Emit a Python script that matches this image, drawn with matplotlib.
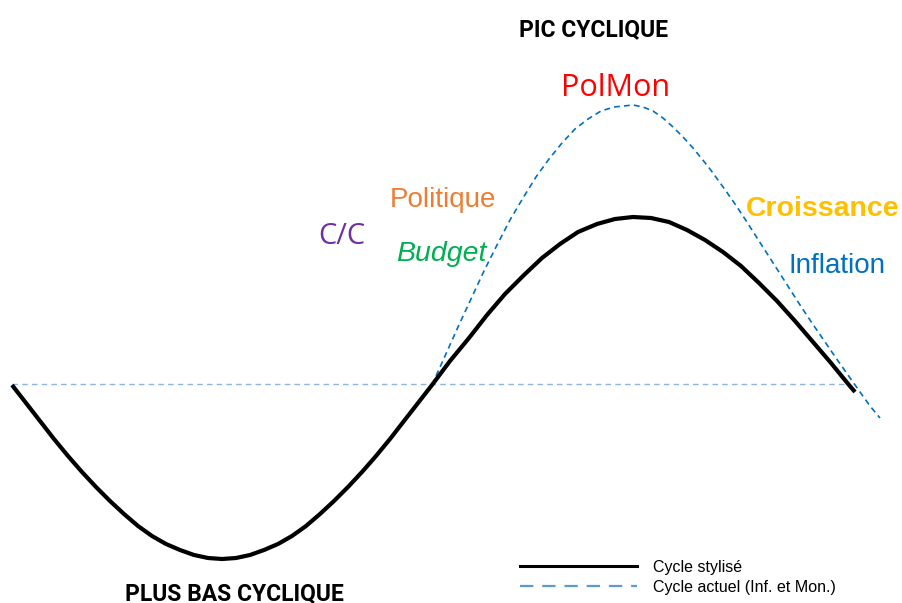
"""Stylised economic cycle vs current cycle (Inf. et Mon.)."""

import matplotlib
matplotlib.use("Agg")
import matplotlib.pyplot as plt
from matplotlib.lines import Line2D

# stylised cycle (pixel-like units, y grows downward)
stylise_x = [12, 26, 40, 54, 68, 82, 96, 110, 124, 138, 152, 166, 180, 194, 208, 222,
             236, 250, 264, 278, 292, 306, 320, 334, 348, 362, 376, 390, 404, 418,
             432, 450, 469, 487, 505, 524, 542, 560, 578, 597, 615, 633,
             651, 669, 687, 705, 723, 741, 759, 777, 795, 813, 831, 849, 855]
stylise_y = [385, 403, 421, 439, 456, 472, 487, 501, 514, 526, 536, 544, 550, 555, 558, 559,
             558, 555, 550, 544, 536, 526, 514, 501, 487, 472, 456, 439, 421, 403,
             385, 361, 338, 315, 294, 275, 258, 244, 232, 224, 219, 217,
             218, 222, 230, 240, 252, 266, 283, 301, 321, 342, 363, 385, 392]

# current cycle (inflation and monetary policy)
actuel_x = [432, 445, 458, 471, 484, 497, 510, 523, 536, 549, 562, 575, 588, 601, 614, 633,
            643, 653, 663, 673, 683, 693, 702, 710, 718, 727, 735, 743, 752, 760, 768,
            777, 785, 792, 800, 812, 824, 836, 848, 860, 870, 880]
actuel_y = [385, 356, 327, 299, 271, 245, 220, 198, 177, 159, 143, 129, 119, 111, 107, 105,
            107, 111, 118, 127, 137, 148, 159, 169, 180, 192.5, 204, 216, 230, 242.5, 255,
            269, 281.5, 292.5, 305, 323, 340.5, 358, 375, 392, 406, 418]

# neutral level
neutre_x = [12, 850]
neutre_y = [384, 384]

labels = ["PolMon", "Politique", "C/C", "Budget", "Croissance", "Inflation"]
label_colors = ["#FF0000", "#ED7D31", "#7030A0", "#00B050", "#FFC000", "#0070C0"]
label_pos = [(616, 88), (443, 200), (342, 236), (441, 254), (823, 209), (837, 266)]

fig = plt.figure(figsize=(9.02, 6.03), dpi=100)
ax = fig.add_axes([0, 0, 1, 1])
ax.set_xlim(0, 902)
ax.set_ylim(603, 0)
ax.axis("off")

ax.plot(neutre_x, neutre_y, color="#8DB4E2", lw=1.0, ls=(0, (4, 3)))
ax.plot(actuel_x, actuel_y, color="#0070C0", lw=1.2, ls=(0, (3.5, 2.5)))
ax.plot(stylise_x, stylise_y, color="black", lw=3.0, solid_capstyle="butt",
        solid_joinstyle="round")

ax.text(594, 30, "PIC CYCLIQUE", fontsize=16.5, fontweight="bold", family="Roboto",
        ha="center", va="center")
ax.text(234, 600, "PLUS BAS CYCLIQUE", fontsize=16.5, fontweight="bold", family="Roboto",
        ha="center", va="baseline")

fonts = {
    "PolMon": dict(family="Open Sans", fontsize=22),
    "C/C": dict(family="Open Sans", fontsize=21),
    "Politique": dict(family="Liberation Sans", fontsize=20),
    "Budget": dict(family="Liberation Sans", fontsize=20.5, style="italic"),
    "Croissance": dict(family="Liberation Sans", fontsize=20.5, fontweight="bold"),
    "Inflation": dict(family="Liberation Sans", fontsize=20),
}
for text, color, (x, y) in zip(labels, label_colors, label_pos):
    ax.text(x, y, text, color=color, ha="center", va="center", **fonts[text])

handles = [
    Line2D([], [], color="black", lw=2.2),
    Line2D([], [], color="#5B9BD5", lw=1.6, ls=(0, (6, 4))),
]
ax.legend(handles, ["Cycle stylisé", "Cycle actuel (Inf. et Mon.)"],
          loc="upper left", bbox_to_anchor=(520 / 902, 1 - 560 / 603),
          frameon=False, handlelength=7.3, handletextpad=1.05, labelspacing=0.3,
          borderaxespad=0, borderpad=0,
          prop={"family": "Liberation Sans", "size": 11.5})

fig.savefig("out.png", dpi=100)
